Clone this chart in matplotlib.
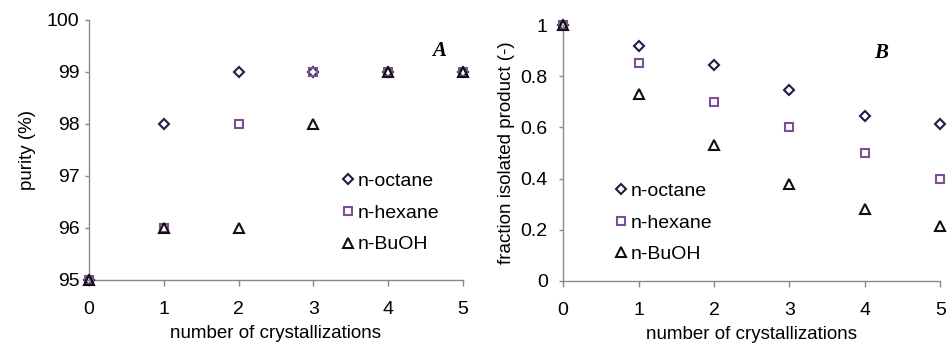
import numpy as np
import matplotlib.pyplot as plt

plt.rcParams['font.family'] = ['Liberation Sans', 'DejaVu Sans']

# number of crystallization steps
steps = [0, 1, 2, 3, 4, 5]

# purity (%) after each step
purity_octane = [95, 98, 99, 99, 99, 99]
purity_hexane = [95, 96, 98, 99, 99, 99]
purity_buoh = [95, 96, 96, 98, 99, 99]

# fraction of product isolated after each step
frac_octane = [1.0, 0.92, 0.845, 0.745, 0.645, 0.615]
frac_hexane = [1.0, 0.85, 0.70, 0.60, 0.50, 0.40]
frac_buoh = [1.0, 0.73, 0.53, 0.38, 0.28, 0.215]

solvents = ['n-octane', 'n-hexane', 'n-BuOH']
markers = ['D', 's', '^']
colors = ['#221d45', '#7d4f95', '#111111']
msizes = [5, 6, 6.5]

fig = plt.figure(figsize=(9.48, 3.43), dpi=100)
axA = fig.add_axes([0.094, 0.184, 0.394, 0.758])
axB = fig.add_axes([0.594, 0.181, 0.398, 0.746])


def style_axes(ax, ypad):
    for side in ['top', 'right']:
        ax.spines[side].set_visible(False)
    for side in ['left', 'bottom']:
        ax.spines[side].set_color('#8a8a8a')
        ax.spines[side].set_linewidth(1.0)
    ax.tick_params(axis='both', colors='#8a8a8a', labelcolor='black',
                   labelsize=14, width=1.0)
    ax.tick_params(axis='x', length=4, pad=11)
    ax.tick_params(axis='y', length=3, pad=ypad)
    ax.set_xlim(0, 5)
    ax.set_xticks(steps)
    ax.set_xlabel('number of crystallizations', fontsize=13.5, labelpad=5)


def draw_series(ax, series):
    for ys, name, m, c, ms in zip(series, solvents, markers, colors, msizes):
        ax.plot(steps, ys, linestyle='none', marker=m, markersize=ms,
                markerfacecolor='none', markeredgecolor=c,
                markeredgewidth=1.5, label=name, clip_on=False, zorder=3)


# panel A: purity
style_axes(axA, 4)
draw_series(axA, [purity_octane, purity_hexane, purity_buoh])
axA.set_ylim(95, 100)
axA.set_yticks([95, 96, 97, 98, 99, 100])
axA.set_ylabel('purity (%)', fontsize=13.5, labelpad=8)
axA.legend(loc='upper left', bbox_to_anchor=(0.644, 0.45), frameon=False,
           fontsize=14, handletextpad=0.05, handlelength=0.9,
           labelspacing=0.72, borderpad=0)
axA.text(4.68, 99.4, 'A', fontsize=15, fontweight='bold', fontstyle='italic',
         family='Liberation Serif', ha='center', va='center')

# panel B: fraction isolated
style_axes(axB, 8)
draw_series(axB, [frac_octane, frac_hexane, frac_buoh])
axB.set_ylim(0, 1)
axB.set_yticks([0, 0.2, 0.4, 0.6, 0.8, 1])
axB.set_yticklabels(['0', '0.2', '0.4', '0.6', '0.8', '1'])
axB.set_ylabel('fraction isolated product (-)', fontsize=13.5, labelpad=4)
axB.legend(loc='upper left', bbox_to_anchor=(0.104, 0.423), frameon=False,
           fontsize=14, handletextpad=0.05, handlelength=0.9,
           labelspacing=0.72, borderpad=0)
axB.text(4.21, 0.89, 'B', fontsize=15, fontweight='bold', fontstyle='italic',
         family='Liberation Serif', ha='center', va='center')

fig.savefig('out.png', dpi=100)
